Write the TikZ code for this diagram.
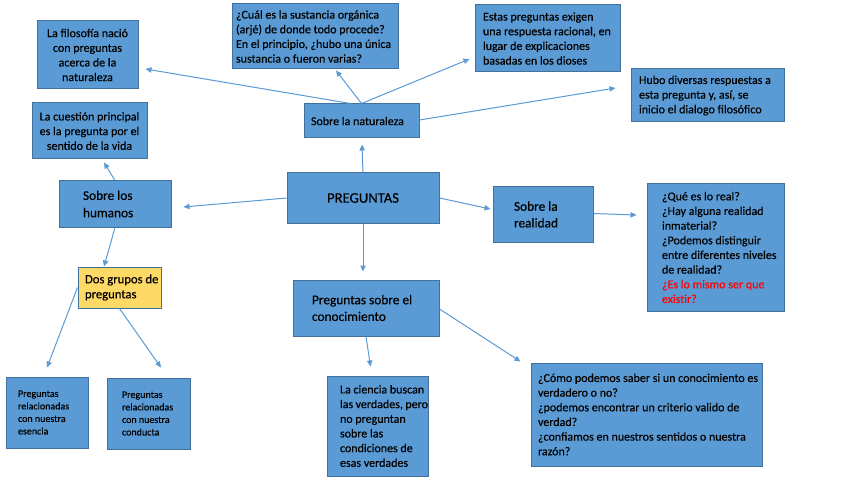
\documentclass[tikz,border=0pt]{standalone}
\usepackage{fontspec}
\setmainfont{Carlito}[UprightFeatures={FakeBold=0.35}]
\usetikzlibrary{arrows.meta,calc}
\newlength\px \setlength\px{0.75pt}
\newcommand{\bt}[3]{\hspace*{#1\px}\parbox[c]{#2\px}{\raggedright #3}}
\newcommand{\ct}[2]{\parbox[c]{#1\px}{\centering #2}}
\definecolor{boxfill}{RGB}{91,155,213}
\definecolor{boxline}{RGB}{65,113,156}
\definecolor{ylw}{RGB}{255,217,102}
\definecolor{arrcol}{RGB}{91,155,213}
\definecolor{redtxt}{RGB}{255,0,0}
\tikzset{
  box/.style 2 args={draw=boxline, fill=boxfill, line width=0.75pt, inner sep=0pt,
    minimum width=#1\px, minimum height=#2\px, font=\fontsize{9}{11}\selectfont, text=black},
  arr/.style={draw=arrcol, line width=0.75pt, -{Triangle[length=4.5pt,width=4pt]}},
}
\begin{document}
\begin{tikzpicture}[x=0.75pt,y=-0.75pt]
\fill[white] (0,0) rectangle (848,477);
\useasboundingbox (0,0) rectangle (848,477);

\node[box={101}{68}] (fil) at (87.5,55) {\ct{101}{La filosofía nació\\con preguntas\\acerca de la\\naturaleza}};
\node[box={115}{56}] (cue) at (89.5,131) {\ct{115}{La cuestión principal\\es la pregunta por el\\sentido de la vida}};
\node[box={166}{65}] (cual) at (315,36.5) {\bt{4}{162}{¿Cuál es la sustancia orgánica\\(arjé) de donde todo procede?\\En el principio, ¿hubo una única\\sustancia o fueron varias?}};
\node[box={145}{67}] (estas) at (547.5,38.5) {\bt{8}{137}{Estas preguntas exigen\\una respuesta racional, en\\lugar de explicaciones\\basadas en los dioses}};
\node[box={153}{53}] (hubo) at (707.5,95.5) {\bt{8}{145}{Hubo diversas respuestas a\\esta pregunta y, así, se\\inicio el dialogo filosófico}};
\node[box={115}{34}] (nat) at (361.5,121) {\bt{7}{108}{Sobre la naturaleza}};
\node[box={112}{46}, font=\fontsize{10}{13}\selectfont] (hum) at (115,204) {\bt{24}{88}{Sobre los\\humanos}};
\node[box={152}{50}, font=\fontsize{11}{13}\selectfont] (pre) at (363,198) {PREGUNTAS};
\node[box={100}{55}, font=\fontsize{10}{12.5}\selectfont] (rea) at (543,214.5) {\bt{21}{79}{Sobre la\\realidad}};
\node[box={137}{127}] (que) at (715.5,247.5) {\bt{15}{122}{¿Qué es lo real?\\¿Hay alguna realidad\\inmaterial?\\¿Podemos distinguir\\entre diferentes niveles\\de realidad?\\{\color{redtxt}¿Es lo mismo ser que\\existir?}}};
\node[box={83}{41}, fill=ylw, font=\fontsize{9.5}{11.25}\selectfont] (dos) at (119.5,287.5) {\bt{7}{76}{Dos grupos de\\preguntas}};
\node[box={146}{56}, font=\fontsize{10}{12.5}\selectfont] (cono) at (366,308) {\bt{19}{127}{Preguntas sobre el\\conocimiento}};
\node[box={82}{71}, font=\fontsize{7.5}{9.4}\selectfont] (ese) at (47,412.5) {\bt{12}{70}{Preguntas\\relacionadas\\con nuestra\\esencia}};
\node[box={83}{71}, font=\fontsize{7.5}{9.4}\selectfont] (cond) at (148.5,413.5) {\bt{15}{68}{Preguntas\\relacionadas\\con nuestra\\conducta}};
\node[box={101}{100}] (cie) at (377.5,426) {\bt{13}{88}{La ciencia buscan\\las verdades, pero\\no preguntan\\sobre las\\condiciones de\\esas verdades}};
\node[box={231}{103}] (como) at (646.5,414.5) {\bt{7}{224}{¿Cómo podemos saber si un conocimiento es\\verdadero o no?\\¿podemos encontrar un criterio valido de\\verdad?\\¿confiamos en nuestros sentidos o nuestra\\razón?}};

\draw[arr] ($(nat.north)+(-11,0)$) -- ($(fil.east)+(7,14)$);
\draw[arr] (nat.north) -- ($(cual.south)+(21,1)$);
\draw[arr] (nat.north) -- ($(estas.west)+(-5,20.5)$);
\draw[arr] ($(nat.east)+(0,-1)$) -- ($(hubo.west)+(-15,-7.5)$);
\draw[arr] (pre.north) -- ($(nat.south)+(0.5,6)$);
\draw[arr] (pre.west) -- ($(hum.east)+(12,3)$);
\draw[arr] (hum.north) -- ($(cue.south)+(14.5,3)$);
\draw[arr] (hum.south) -- ($(dos.north)+(-15.5,0)$);
\draw[arr] (dos.west) -- ($(ese.north)+(0,-9)$);
\draw[arr] (dos.south) -- ($(cond.north)+(12.5,-10)$);
\draw[arr] (pre.east) -- ($(rea.west)+(-2,-5.5)$);
\draw[arr] ($(rea.east)+(0,-1)$) -- ($(que.west)+(-10,-32.5)$);
\draw[arr] (pre.south) -- ($(cono.north)+(-3,-8)$);
\draw[arr] (cono.south) -- ($(cie.north)+(-7,-9)$);
\draw[arr] ($(cono.east)+(0,1)$) -- ($(como.north west)+(-10,-1)$);
\end{tikzpicture}
\end{document}
